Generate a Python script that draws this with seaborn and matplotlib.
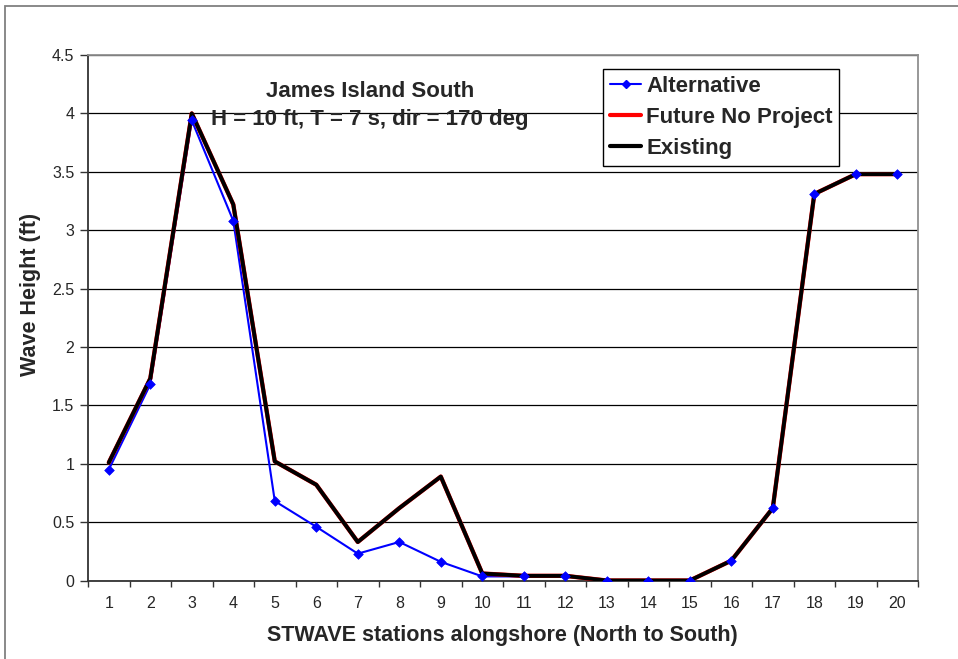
import matplotlib
matplotlib.use("Agg")
import matplotlib.pyplot as plt
from matplotlib.lines import Line2D
from matplotlib.patches import Rectangle
import seaborn as sns
import pandas as pd

# stations alongshore (North to South)
stations = list(range(1, 21))

# wave heights (ft)
alternative = [0.95, 1.68, 3.94, 3.08, 0.68, 0.46, 0.23, 0.33, 0.16, 0.035,
               0.035, 0.035, 0.0, 0.0, 0.0, 0.17, 0.62, 3.31, 3.48, 3.48]
future_no_project = [1.01, 1.73, 4.0, 3.22, 1.02, 0.82, 0.33, 0.62, 0.89, 0.06,
                     0.04, 0.04, 0.0, 0.0, 0.0, 0.17, 0.62, 3.31, 3.48, 3.48]
existing = [1.01, 1.73, 4.0, 3.22, 1.02, 0.82, 0.33, 0.62, 0.89, 0.06,
            0.04, 0.04, 0.0, 0.0, 0.0, 0.17, 0.62, 3.31, 3.48, 3.48]

y_ticks = [0, 0.5, 1, 1.5, 2, 2.5, 3, 3.5, 4, 4.5]
y_tick_labels = ["0", "0.5", "1", "1.5", "2", "2.5", "3", "3.5", "4", "4.5"]

df = pd.DataFrame({
    "station": stations,
    "Alternative": alternative,
    "Future No Project": future_no_project,
    "Existing": existing,
})

sns.set_style("white")
plt.rcParams["font.family"] = ["Liberation Sans", "DejaVu Sans"]

fig = plt.figure(figsize=(9.58, 6.59), dpi=100)
# chart-area frame (runs off the right and bottom of the picture)
fig.patches.append(Rectangle((0.0052, -0.05), 1.1, 0.9909 + 0.05,
                             transform=fig.transFigure, fill=False,
                             edgecolor="#808080", linewidth=1.3))
ax = fig.add_axes([0.0919, 0.1191, 0.8664, 0.7974])

# lines: blue first, then red, then black on top
sns.lineplot(data=df, x="station", y="Alternative", ax=ax, color="#0000FF",
             linewidth=1.5, zorder=3)
sns.lineplot(data=df, x="station", y="Future No Project", ax=ax, color="#FF0000",
             linewidth=3.1, zorder=4)
sns.lineplot(data=df, x="station", y="Existing", ax=ax, color="black",
             linewidth=2.8, zorder=5)
# Excel puts the markers on top of every line
sns.scatterplot(data=df, x="station", y="Alternative", ax=ax, color="#0000FF",
                marker="D", s=24, edgecolor="#0000FF", linewidth=0.5, zorder=6)

ax.set_xlim(0.5, 20.5)
ax.set_ylim(0, 4.5)
ax.set_yticks(y_ticks)
ax.set_yticklabels(y_tick_labels)
ax.set_xticks(stations)
ax.set_xticklabels([str(s) for s in stations])
ax.set_xticks([s + 0.5 for s in range(0, 21)], minor=True)
ax.tick_params(axis="x", which="major", length=0, labelsize=11.5, pad=11)
ax.tick_params(axis="x", which="minor", direction="out", length=4, width=1,
               color="#333333", bottom=True)
ax.tick_params(axis="y", direction="out", length=5.5, width=1, color="#333333",
               labelsize=11.5, left=True, pad=4.3)

ax.grid(axis="y", color="black", linewidth=0.9)
ax.set_axisbelow(True)

for side in ["left", "bottom"]:
    ax.spines[side].set_color("#333333")
    ax.spines[side].set_linewidth(1.3)
for side in ["top", "right"]:
    ax.spines[side].set_visible(True)
    ax.spines[side].set_color("#909090")
    ax.spines[side].set_linewidth(1.3)

ax.set_xlabel("STWAVE stations alongshore (North to South)", fontsize=15.5,
              fontweight="bold")
ax.xaxis.set_label_coords(0.4994, -0.0856)
ax.set_ylabel("Wave Height (ft)", fontsize=15.5, fontweight="bold")
ax.yaxis.set_label_coords(-0.0566, 0.545)

ax.text(0.3398, 0.920, "James Island South", transform=ax.transAxes,
        ha="center", va="baseline", fontsize=16, fontweight="bold")
ax.text(0.3398, 0.8668, "H = 10 ft, T = 7 s, dir = 170 deg",
        transform=ax.transAxes, ha="center", va="baseline", fontsize=16,
        fontweight="bold")

handles = [
    Line2D([], [], color="#0000FF", linewidth=1.5, marker="D", markersize=4.5),
    Line2D([], [], color="#FF0000", linewidth=3.0),
    Line2D([], [], color="black", linewidth=3.0),
]
leg = ax.legend(handles, ["Alternative", "Future No Project", "Existing"],
                loc="upper right", bbox_to_anchor=(0.905, 0.973),
                prop={"weight": "bold", "size": 16}, frameon=True,
                fancybox=False, edgecolor="black", framealpha=1,
                handlelength=1.4, handletextpad=0.22, labelspacing=0.45,
                borderpad=0.3, borderaxespad=0)
leg.get_frame().set_linewidth(1.0)
leg.set_zorder(10)

fig.savefig("out.png", dpi=100, facecolor="white")
